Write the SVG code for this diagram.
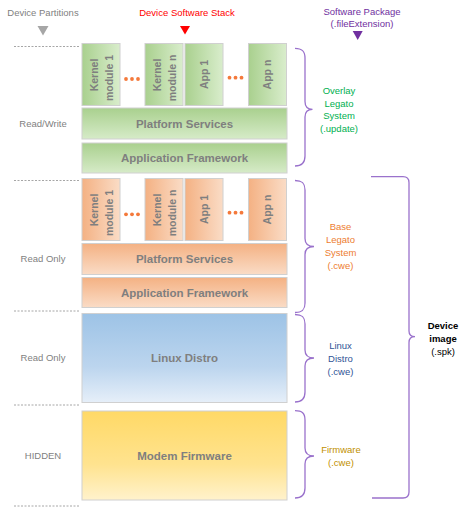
<svg xmlns="http://www.w3.org/2000/svg" width="466" height="508" viewBox="0 0 466 508">
<defs>
<style>
.lbl{font-family:"Liberation Sans",Arial,sans-serif;font-size:9.5px;text-anchor:middle}
.gray{fill:#7f7f7f}
.box{stroke:#d0d0d0;stroke-width:1}
.bt{font-family:"Liberation Sans",Arial,sans-serif;font-size:11.5px;font-weight:bold;fill:#7f7f7f;text-anchor:middle}
.rt{font-family:"Liberation Sans",Arial,sans-serif;font-size:10.5px;font-weight:bold;fill:#7f7f7f;text-anchor:middle}
.dash{stroke:#a6a6a6;stroke-width:1;stroke-dasharray:2 1.5;fill:none}
.brace{stroke:#9a72cc;stroke-width:1.3;fill:none}
.dot{fill:#f4793b}
</style>
<linearGradient id="gH" x1="0" y1="0" x2="1" y2="0"><stop offset="0" stop-color="#a9d08e"/><stop offset="1" stop-color="#d9edcc"/></linearGradient>
<linearGradient id="gV" x1="0" y1="0" x2="0" y2="1"><stop offset="0" stop-color="#a9d08e"/><stop offset="1" stop-color="#d6ebc8"/></linearGradient>
<linearGradient id="oH" x1="0" y1="0" x2="1" y2="0"><stop offset="0" stop-color="#f4b183"/><stop offset="1" stop-color="#fadcc6"/></linearGradient>
<linearGradient id="oV" x1="0" y1="0" x2="0" y2="1"><stop offset="0" stop-color="#f4b183"/><stop offset="1" stop-color="#fadcc6"/></linearGradient>
<linearGradient id="bV" x1="0" y1="0" x2="0" y2="1"><stop offset="0" stop-color="#9dc3e6"/><stop offset="0.6" stop-color="#bcd5ee"/><stop offset="1" stop-color="#e6eff9"/></linearGradient>
<linearGradient id="yV" x1="0" y1="0" x2="0" y2="1"><stop offset="0" stop-color="#ffd966"/><stop offset="0.6" stop-color="#ffe38f"/><stop offset="1" stop-color="#fff2cc"/></linearGradient>
</defs>
<rect width="466" height="508" fill="#ffffff"/>

<g id="headers">
<text class="lbl gray" x="43" y="16.3">Device Partitions</text>
<polygon points="37.5,26 48.5,26 43,35.5" fill="#a6a6a6"/>
<text class="lbl" x="187" y="16.3" fill="#ff0000">Device Software Stack</text>
<polygon points="180,26 190,26 185,34.5" fill="#ff0000"/>
<text class="lbl" x="362" y="15" fill="#7030a0">Software Package</text>
<text class="lbl" x="362" y="27.3" fill="#7030a0">(.fileExtension)</text>
<polygon points="352.7,31 362.7,31 357.7,40" fill="#7030a0"/>
</g>

<g id="partitions">
<path class="dash" d="M14,46.5H80 M14,180.5H80 M14,311H80 M14,405H80 M14,506H80"/>
<text class="lbl gray" x="43" y="127.3">Read/Write</text>
<text class="lbl gray" x="43" y="262">Read Only</text>
<text class="lbl gray" x="43" y="361.3">Read Only</text>
<text class="lbl gray" x="43" y="459">HIDDEN</text>
</g>

<g id="overlay-kernel-module-1">
<rect class="box" x="82" y="43.5" width="38" height="62" fill="url(#gH)"/>
<text class="rt" transform="translate(98,75) rotate(-90)">Kernel</text>
<text class="rt" transform="translate(113,78) rotate(-90)">module 1</text>
</g>
<g id="overlay-dots-1"><circle class="dot" cx="126" cy="79" r="1.9"/><circle class="dot" cx="132" cy="79" r="1.9"/><circle class="dot" cx="138" cy="79" r="1.9"/></g>
<g id="overlay-kernel-module-n">
<rect class="box" x="145" y="43.5" width="38" height="62" fill="url(#gH)"/>
<text class="rt" transform="translate(161,75) rotate(-90)">Kernel</text>
<text class="rt" transform="translate(176,78) rotate(-90)">module n</text>
</g>
<g id="overlay-app-1">
<rect class="box" x="185" y="43.5" width="38" height="62" fill="url(#gH)"/>
<text class="rt" transform="translate(207.5,74.5) rotate(-90)">App 1</text>
</g>
<g id="overlay-dots-2"><circle class="dot" cx="229.5" cy="77.7" r="1.9"/><circle class="dot" cx="235.5" cy="77.7" r="1.9"/><circle class="dot" cx="241.5" cy="77.7" r="1.9"/></g>
<g id="overlay-app-n">
<rect class="box" x="248.5" y="43.5" width="38" height="62" fill="url(#gH)"/>
<text class="rt" transform="translate(270.5,74.5) rotate(-90)">App n</text>
</g>
<g id="overlay-platform-services">
<rect class="box" x="82" y="108" width="205" height="31" fill="url(#gV)"/>
<text class="bt" x="184.5" y="127.5">Platform Services</text>
</g>
<g id="overlay-application-framework">
<rect class="box" x="82" y="143" width="205" height="30" fill="url(#gV)"/>
<text class="bt" x="184.5" y="162.3">Application Framework</text>
</g>

<g id="base-kernel-module-1">
<rect class="box" x="82" y="178.5" width="38" height="62" fill="url(#oH)"/>
<text class="rt" transform="translate(98,210) rotate(-90)">Kernel</text>
<text class="rt" transform="translate(113,213) rotate(-90)">module 1</text>
</g>
<g id="base-dots-1"><circle class="dot" cx="126" cy="214.3" r="1.9"/><circle class="dot" cx="132" cy="214.3" r="1.9"/><circle class="dot" cx="138" cy="214.3" r="1.9"/></g>
<g id="base-kernel-module-n">
<rect class="box" x="145" y="178.5" width="38" height="62" fill="url(#oH)"/>
<text class="rt" transform="translate(161,210) rotate(-90)">Kernel</text>
<text class="rt" transform="translate(176,213) rotate(-90)">module n</text>
</g>
<g id="base-app-1">
<rect class="box" x="185" y="178.5" width="38" height="62" fill="url(#oH)"/>
<text class="rt" transform="translate(207.5,209.5) rotate(-90)">App 1</text>
</g>
<g id="base-dots-2"><circle class="dot" cx="229.5" cy="212.7" r="1.9"/><circle class="dot" cx="235.5" cy="212.7" r="1.9"/><circle class="dot" cx="241.5" cy="212.7" r="1.9"/></g>
<g id="base-app-n">
<rect class="box" x="248.5" y="178.5" width="38" height="62" fill="url(#oH)"/>
<text class="rt" transform="translate(270.5,209.5) rotate(-90)">App n</text>
</g>
<g id="base-platform-services">
<rect class="box" x="82" y="243.5" width="205" height="31" fill="url(#oV)"/>
<text class="bt" x="184.5" y="262.5">Platform Services</text>
</g>
<g id="base-application-framework">
<rect class="box" x="82" y="277.5" width="205" height="30" fill="url(#oV)"/>
<text class="bt" x="184.5" y="297">Application Framework</text>
</g>

<g id="linux-distro">
<rect class="box" x="82" y="313.5" width="205" height="89" fill="url(#bV)"/>
<text class="bt" x="184.5" y="362">Linux Distro</text>
</g>
<g id="modem-firmware">
<rect class="box" x="82" y="411" width="205" height="89" fill="url(#yV)"/>
<text class="bt" x="184.5" y="460">Modem Firmware</text>
</g>

<g id="connectors">
<path class="brace" d="M295,48.3 C302,48.3 305,51 305,58 L305,101.5 C305,106.5 308,109.3 312.5,109.3 C308,109.3 305,112 305,117 L305,156 C305,163 302,166 295,166"/>
<path class="brace" d="M295,180.5 C302,180.5 305,183 305,190 L305,238.5 C305,243.5 308,246.5 314,246.5 C308,246.5 305,249.5 305,254.5 L305,303 C305,310 302,312.5 295,312.5"/>
<path class="brace" d="M295,314.5 C302,314.5 305,317 305,324 L305,350 C305,355 308,358 314,358 C308,358 305,361 305,366 L305,392 C305,399 302,402 295,402"/>
<path class="brace" d="M295,410.7 C302,410.7 305,413 305,420 L305,448 C305,453 308,456 314,456 C308,456 305,459 305,464 L305,488 C305,495 302,498 295,498"/>
<path class="brace" d="M371,176.7 L403,176.7 Q409,176.7 409,182.7 L409,331 Q409,336.7 415,336.7 Q409,336.7 409,342.5 L409,492 Q409,498 403,498 L372,498"/>
</g>

<g id="overlay-package">
<text class="lbl" x="339" y="94" fill="#00b050">Overlay</text>
<text class="lbl" x="339" y="106.8" fill="#00b050">Legato</text>
<text class="lbl" x="339" y="119.4" fill="#00b050">System</text>
<text class="lbl" x="339" y="131.8" fill="#00b050">(.update)</text>
</g>
<g id="base-package">
<text class="lbl" x="340.5" y="230.3" fill="#ed7d31">Base</text>
<text class="lbl" x="340.5" y="243.1" fill="#ed7d31">Legato</text>
<text class="lbl" x="340.5" y="255.9" fill="#ed7d31">System</text>
<text class="lbl" x="340.5" y="268.7" fill="#ed7d31">(.cwe)</text>
</g>
<g id="linux-package">
<text class="lbl" x="340.5" y="349" fill="#305496">Linux</text>
<text class="lbl" x="340.5" y="361.8" fill="#305496">Distro</text>
<text class="lbl" x="340.5" y="374.6" fill="#305496">(.cwe)</text>
</g>
<g id="firmware-package">
<text class="lbl" x="341" y="452.6" fill="#bf9000">Firmware</text>
<text class="lbl" x="341" y="465.6" fill="#bf9000">(.cwe)</text>
</g>
<g id="device-image">
<text class="lbl" x="443" y="328.5" fill="#000000" font-weight="bold">Device</text>
<text class="lbl" x="443" y="341.5" fill="#000000" font-weight="bold">image</text>
<text class="lbl" x="443" y="354.5" fill="#000000">(.spk)</text>
</g>
</svg>
